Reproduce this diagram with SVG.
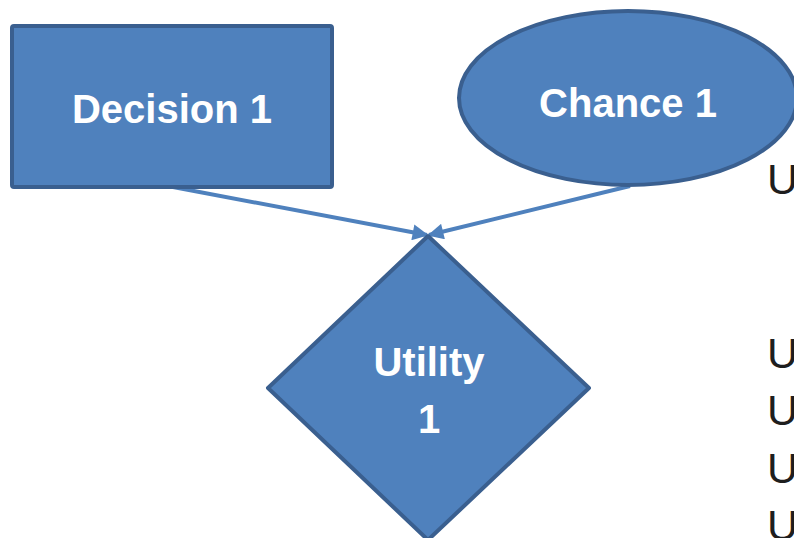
<svg xmlns="http://www.w3.org/2000/svg" width="794" height="538" viewBox="0 0 794 538">
<style>
.shape{fill:#4f81bd;stroke:#3a5f8f;stroke-width:4;stroke-linejoin:round}
.label{font-family:"Liberation Sans",Arial,sans-serif;font-weight:bold;font-size:40px;fill:#ffffff;text-anchor:middle}
.edge{stroke:#4f81bd;stroke-width:4;fill:none}
.side{font-family:"Liberation Sans",Arial,sans-serif;font-size:43px;fill:#1e1e1e}
</style>
<defs>
<marker id="arr" viewBox="0 0 10 10" refX="9" refY="5" markerWidth="4.2" markerHeight="4" orient="auto" markerUnits="strokeWidth">
<path d="M0,0 L10,5 L0,10 Z" fill="#4f81bd"/>
</marker>
</defs>
<rect width="794" height="538" fill="#ffffff"/>
<g id="connectors">
<line class="edge" x1="173" y1="187" x2="427" y2="235" marker-end="url(#arr)"/>
<line class="edge" x1="630" y1="186" x2="429" y2="235" marker-end="url(#arr)"/>
</g>
<g id="decision1">
<rect class="shape" x="12" y="26" width="320" height="161" rx="2"/>
<text class="label" x="172" y="123">Decision 1</text>
</g>
<g id="chance1">
<ellipse class="shape" cx="628" cy="98" rx="169" ry="87"/>
<text class="label" x="628" y="117">Chance 1</text>
</g>
<g id="utility1">
<polygon class="shape" points="428,236 589,388 428,540 268,388"/>
<text class="label" x="429" y="376">Utility</text>
<text class="label" x="429" y="433">1</text>
</g>
<g id="side-text">
<text class="side" x="767" y="194">U</text>
<text class="side" x="767" y="368">U</text>
<text class="side" x="767" y="425">U</text>
<text class="side" x="767" y="483">U</text>
<text class="side" x="767" y="540">U</text>
</g>
</svg>
